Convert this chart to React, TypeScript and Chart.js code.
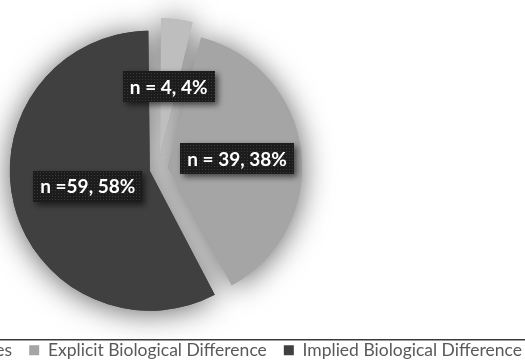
import { useEffect, useRef } from 'react';
import { Chart, registerables } from 'chart.js';

Chart.register(...registerables);

// ---- data ----
const categories = ['Social Differences', 'Explicit Biological Difference', 'Implied Biological Difference'];
const counts = [4, 39, 59];
const labelPrefixes = ['n = ', 'n = ', 'n ='];
const sliceColors = ['#bebebe', '#a5a5a5', '#404040'];

// ---- layout / style ----
const VIEW_LEFT = 300;
const CANVAS_W = 1100;

function makePattern(): CanvasPattern | string {
  const c = document.createElement('canvas');
  c.width = 3;
  c.height = 3;
  const g = c.getContext('2d');
  if (!g) return '#1e1e1e';
  g.fillStyle = '#1c1c1c';
  g.fillRect(0, 0, 3, 3);
  g.fillStyle = '#3a3a3a';
  g.fillRect(1, 1, 1, 1);
  const p = g.createPattern(c, 'repeat');
  return p || '#1e1e1e';
}

const glowPlugin = {
  id: 'glow',
  beforeDatasetsDraw(chart: any) {
    const ctx = chart.ctx;
    const meta = chart.getDatasetMeta(0);
    ctx.save();
    ctx.shadowColor = 'rgba(0,0,0,0.62)';
    ctx.shadowBlur = 30;
    ctx.shadowOffsetX = 0;
    ctx.shadowOffsetY = 2;
    meta.data.forEach((a: any) => a.draw(ctx));
    ctx.restore();
  },
};

const framePlugin = {
  id: 'frame',
  afterDraw(chart: any) {
    const ctx = chart.ctx;
    const y = chart.legend.top + 14.5;
    ctx.save();
    ctx.fillStyle = '#3a3a3a';
    ctx.fillRect(0, y, chart.width, 1.5);
    ctx.restore();
  },
};

const labelPlugin = {
  id: 'sliceLabels',
  afterDatasetsDraw(chart: any, _args: any, opts: any) {
    const ctx = chart.ctx;
    const meta = chart.getDatasetMeta(0);
    const total = counts.reduce((a, b) => a + b, 0);
    const pattern = makePattern();
    meta.data.forEach((arc: any, i: number) => {
      const { x, y, startAngle, endAngle, outerRadius } = arc.getProps(
        ['x', 'y', 'startAngle', 'endAngle', 'outerRadius'],
        true
      );
      const mid = (startAngle + endAngle) / 2;
      const off = (arc.options.offset || 0) / 4;
      const d = off + outerRadius * opts.radial[i];
      const lx = x + Math.cos(mid) * d;
      const ly = y + Math.sin(mid) * d;
      const text = labelPrefixes[i] + counts[i] + ', ' + Math.round((counts[i] / total) * 100) + '%';
      ctx.save();
      ctx.font = opts.font;
      const tw = ctx.measureText(text).width;
      const bw = tw + 14;
      const bh = 31;
      ctx.shadowColor = 'rgba(0,0,0,0.6)';
      ctx.shadowBlur = 6;
      ctx.shadowOffsetX = 3;
      ctx.shadowOffsetY = 3;
      ctx.fillStyle = pattern;
      ctx.fillRect(Math.round(lx - bw / 2), Math.round(ly - bh / 2), Math.round(bw), bh);
      ctx.restore();
      ctx.save();
      ctx.font = opts.font;
      ctx.fillStyle = '#ffffff';
      ctx.textAlign = 'center';
      ctx.textBaseline = 'middle';
      ctx.fillText(text, lx, ly + 1);
      ctx.restore();
    });
  },
};

export default function App() {
  const ref = useRef<HTMLCanvasElement | null>(null);
  useEffect(() => {
    if (!ref.current) return;
    const defaultGen = (Chart as any).overrides.pie.plugins.legend.labels.generateLabels;
    const chart = new Chart(ref.current, {
      type: 'pie',
      data: {
        labels: categories,
        datasets: [
          {
            data: counts,
            backgroundColor: sliceColors,
            borderWidth: 0,
            offset: [44, 38, 36],
            radius: 131,
          } as any,
        ],
      },
      options: {
        responsive: true,
        maintainAspectRatio: false,
        animation: false,
        layout: { padding: { left: 78, right: 261, top: 12.5, bottom: -6 } },
        plugins: {
          legend: {
            position: 'bottom',
            align: 'end',
            labels: {
              boxWidth: 10,
              boxHeight: 10,
              padding: 17,
              color: '#595959',
              font: { family: 'Lato', size: 17.5 },
              generateLabels: (c: any) =>
                defaultGen(c).map((l: any) => ({ ...l, lineWidth: 0, strokeStyle: 'rgba(0,0,0,0)' })),
            },
          },
          tooltip: { enabled: false },
          sliceLabels: {
            radial: [0.547, 0.532, 0.488],
            font: 'bold 19px Lato',
          },
        } as any,
      },
      plugins: [glowPlugin, labelPlugin, framePlugin],
    });
    return () => chart.destroy();
  }, []);
  return (
    <div
      style={{
        position: 'fixed',
        left: -VIEW_LEFT,
        top: 0,
        width: CANVAS_W,
        height: 363,
        background: '#ffffff',
      }}
    >
      <canvas ref={ref} />
    </div>
  );
}
